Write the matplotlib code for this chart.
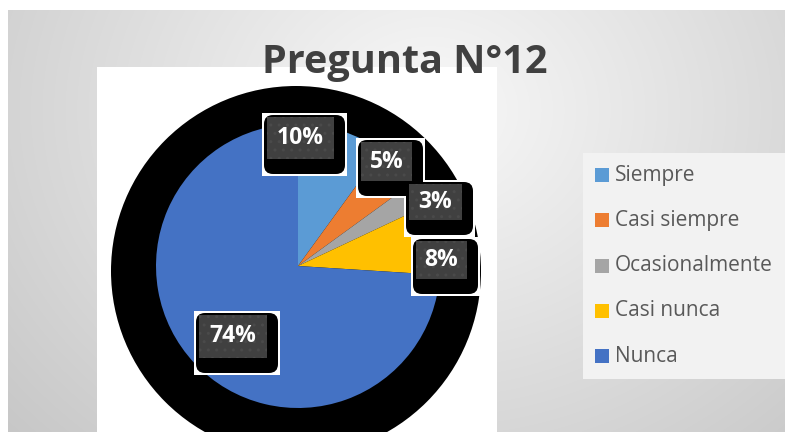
import numpy as np
import matplotlib.pyplot as plt
from matplotlib.patches import Rectangle, Circle, FancyBboxPatch

# Data
categories = ["Siempre", "Casi siempre", "Ocasionalmente", "Casi nunca", "Nunca"]
values = [10, 5, 3, 8, 74]
colors = ["#5B9BD5", "#ED7D31", "#A5A5A5", "#FFC000", "#4472C4"]
title = "Pregunta N°12"

# Layout (pixel coords, y from top)
W, H = 785, 432
label_boxes = [(262, 113, 85, 63), (356, 138, 69, 60), (404, 180, 71, 57),
               (411, 237, 69, 59), (194, 311, 86, 64)]

plt.rcParams['font.family'] = ['Open Sans', 'DejaVu Sans']

fig = plt.figure(figsize=(W / 100, H / 100), dpi=100)
ax = fig.add_axes([0, 0, 1, 1])

# Gray radial gradient background
yy, xx = np.mgrid[0:H, 0:W]
d = np.sqrt(((xx - 430) / 500) ** 2 + ((yy - 110) / 420) ** 2)
g = np.clip(0.975 - 0.17 * d, 0.78, 1.0)
ax.imshow(np.dstack([g, g, g]), extent=(0, W, 0, H), origin='upper',
          zorder=0, aspect='auto')
ax.add_patch(Rectangle((0, H - 10), W, 10, fc='white', ec='none', zorder=1))
ax.add_patch(Rectangle((0, 0), 8, H, fc='white', ec='none', zorder=1))

# White plot area
ax.add_patch(Rectangle((97, 0), 400, H - 67, fc='white', ec='none', zorder=1))

# Black shadow disc
ax.add_patch(Circle((296, H - 271), 185, fc='black', ec='none', zorder=2))

# Pie
ax.pie(values, colors=colors, startangle=90, counterclock=False,
       center=(298, H - 266), radius=142,
       wedgeprops=dict(linewidth=0, zorder=3))

# Data labels
for (x0, y0, w, h), v in zip(label_boxes, values):
    ax.add_patch(Rectangle((x0, H - y0 - h), w, h, fc='white', ec='none', zorder=5))
    ax.add_patch(FancyBboxPatch((x0 + 2, H - y0 - h + 2), w - 4, h - 4,
                                boxstyle="round,pad=0,rounding_size=9",
                                fc='black', ec='none', zorder=6))
    gw, gh = w - 18, h - 21
    ax.add_patch(Rectangle((x0 + 5, H - y0 - 4 - gh), gw, gh, fc='#404040',
                           ec='#4a4a4a', lw=0, hatch='..', zorder=7))
    ax.text(x0 + 5 + gw / 2, H - y0 - 4 - gh / 2, f"{v}%", color='white',
            fontsize=16.5, fontweight='bold', ha='center', va='center', zorder=8)

# Legend
ax.add_patch(Rectangle((583, H - 379), 202, 226, fc='#f2f2f2', ec='none', zorder=5))
for i, (lab, col) in enumerate(zip(categories, colors)):
    yc = 175 + i * 45.3
    ax.add_patch(Rectangle((595, H - yc - 7), 14, 14, fc=col, ec='none', zorder=6))
    ax.text(615, H - yc, lab, color='#595959', fontsize=15, ha='left',
            va='center', zorder=6)

# Title
ax.text(405, H - 62, title, color='#404040', fontsize=28.5, fontweight='bold',
        ha='center', va='center', zorder=6)

ax.set_xlim(0, W)
ax.set_ylim(0, H)
ax.set_aspect('auto')
ax.axis('off')

fig.savefig("out.png", dpi=100)
